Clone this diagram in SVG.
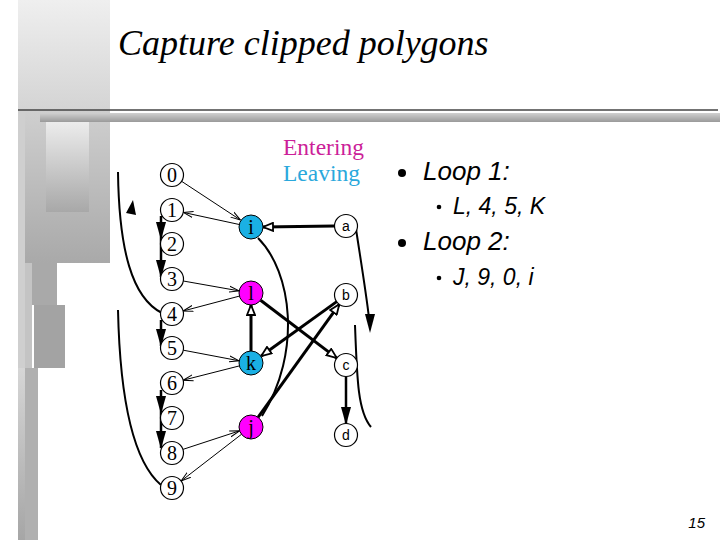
<svg xmlns="http://www.w3.org/2000/svg" width="720" height="540" viewBox="0 0 720 540">
<defs>
<linearGradient id="gTop" x1="0" y1="0" x2="0" y2="1"><stop offset="0" stop-color="#efefef"/><stop offset="1" stop-color="#d4d4d4"/></linearGradient>
<linearGradient id="gMid" x1="0" y1="0" x2="0" y2="1"><stop offset="0" stop-color="#cfcfcf"/><stop offset="1" stop-color="#a9a9a9"/></linearGradient>
<linearGradient id="gIn" x1="0" y1="0" x2="0" y2="1"><stop offset="0" stop-color="#ececec"/><stop offset="1" stop-color="#a8a8a8"/></linearGradient>
<linearGradient id="gBar" x1="0" y1="0" x2="0" y2="1"><stop offset="0" stop-color="#d6d6d6"/><stop offset="1" stop-color="#a6a6a6"/></linearGradient>
<linearGradient id="gH" x1="0" y1="0" x2="0" y2="1"><stop offset="0" stop-color="#d0d0d0"/><stop offset="1" stop-color="#9a9a9a"/></linearGradient>
<marker id="thin" viewBox="0 0 10 8" refX="10" refY="4" markerWidth="10" markerHeight="8" markerUnits="userSpaceOnUse" orient="auto"><path d="M0,1 L10,4 L0,7" fill="none" stroke="#000" stroke-width="1"/></marker>
<marker id="open" viewBox="0 0 12 10" refX="11" refY="5" markerWidth="12" markerHeight="10" markerUnits="userSpaceOnUse" orient="auto"><path d="M1,1 L11,5 L1,9 Z" fill="#fff" stroke="#000" stroke-width="1.8"/></marker>
<marker id="fill" viewBox="0 0 18 10" refX="17" refY="5" markerWidth="18" markerHeight="10" markerUnits="userSpaceOnUse" orient="auto"><path d="M0,0 L18,5 L0,10 Z" fill="#000"/></marker>
<style>
.num{font-family:"Liberation Serif",serif;font-size:20px;fill:#000;text-anchor:middle}
.let{font-family:"Liberation Sans",sans-serif;font-size:14px;fill:#000;text-anchor:middle}
.wc{fill:#fff;stroke:#000;stroke-width:1.2}
.cy{fill:#1ab0e4;stroke:#000;stroke-width:1}
.mg{fill:#ff00ff;stroke:#000;stroke-width:1}
.t{fill:none;stroke:#000;stroke-width:1;marker-end:url(#thin)}
.k{fill:none;stroke:#000;stroke-width:3;marker-end:url(#open)}
.f{fill:none;stroke:#000;stroke-width:2.5;marker-end:url(#fill);marker-mid:url(#fill)}
.c{fill:none;stroke:#000;stroke-width:2}
.b1{font-family:"Liberation Sans",sans-serif;font-style:italic;font-size:26px;fill:#000}
.b2{font-family:"Liberation Sans",sans-serif;font-style:italic;font-size:23px;fill:#000}
</style>
</defs>
<g id="background">
<rect x="18" y="0" width="92" height="110" fill="url(#gTop)"/>
<rect x="25" y="110" width="85" height="153" fill="url(#gMid)"/>
<rect x="46" y="122" width="43" height="90" fill="url(#gIn)"/>
<rect x="18" y="110" width="7" height="430" fill="#cfcfcf"/>
<rect x="25" y="263" width="7" height="105" fill="#c4c4c4"/>
<rect x="32" y="263" width="25" height="42" fill="#a9a9a9"/>
<rect x="34" y="305" width="31" height="63" fill="#a3a3a3"/>
<rect x="18" y="368" width="20" height="172" fill="url(#gBar)"/>
<rect x="25" y="368" width="13" height="172" fill="#b0b0b0"/>
<rect x="40" y="113" width="680" height="9" fill="url(#gH)"/>
<line x1="18" y1="110" x2="718" y2="110" stroke="#444" stroke-width="1.5"/>
</g>
<text id="title" x="118" y="55" font-family="Liberation Serif, serif" font-style="italic" font-size="36" fill="#000">Capture clipped polygons</text>
<g id="legend">
<text x="283" y="155" font-family="Liberation Serif, serif" font-size="23.5" fill="#cc1f99">Entering</text>
<text x="283" y="181" font-family="Liberation Serif, serif" font-size="23.5" fill="#2aa8dc">Leaving</text>
</g>
<g id="connectors">
<path class="t" d="M181.6,181.3 L240.6,220.1"/>
<path class="t" d="M239.3,224.5 L183.2,212.4"/>
<path class="t" d="M183.3,281 L239.2,290.9"/>
<path class="t" d="M239.4,296.1 L183.1,311"/>
<path class="t" d="M183.3,350.2 L239.2,360.8"/>
<path class="t" d="M239.4,365.9 L183.2,380.2"/>
<path class="t" d="M182.9,449.4 L239.6,430.8"/>
<path class="t" d="M241.5,434.3 L181.1,481"/>
<path class="k" d="M334.5,226 L263,227"/>
<path class="k" d="M251,351 L251,305"/>
<path class="k" d="M260.6,300.2 L336.8,358.1"/>
<path class="k" d="M337.1,301.4 L261.2,356"/>
<path class="k" d="M258,417.3 L339.3,304.3"/>
<path class="c" stroke-width="3" d="M258,238 C292,272 302,352 262,416"/>
<path class="f" d="M346,377 L346,424"/>
<polyline class="f" points="161,216 161,239 161,277"/>
<path class="f" d="M161,320 L161,346"/>
<polyline class="f" points="161,390 161,413 161,448"/>
<path class="c" d="M118,172 C119,250 132,298 162,313"/>
<polygon points="133,200 126,213 136,215" fill="#000"/>
<path class="c" d="M118,310 C120,400 134,462 161,485"/>
<path class="c" stroke-width="2.5" d="M356,229 C361,262 366,292 369,318"/>
<polygon points="370,333 365,314 375,314" fill="#000"/>
<path class="c" stroke-width="2.5" d="M355,325 C357,380 358,412 371,427"/>
</g>
<g id="n0"><circle class="wc" cx="172" cy="175" r="11.5"/><text class="num" x="172" y="182">0</text></g>
<g id="n1"><circle class="wc" cx="172" cy="210" r="11.5"/><text class="num" x="172" y="217">1</text></g>
<g id="n2"><circle class="wc" cx="172" cy="244" r="11.5"/><text class="num" x="172" y="251">2</text></g>
<g id="n3"><circle class="wc" cx="172" cy="279" r="11.5"/><text class="num" x="172" y="286">3</text></g>
<g id="n4"><circle class="wc" cx="172" cy="314" r="11.5"/><text class="num" x="172" y="321">4</text></g>
<g id="n5"><circle class="wc" cx="172" cy="348" r="11.5"/><text class="num" x="172" y="355">5</text></g>
<g id="n6"><circle class="wc" cx="172" cy="383" r="11.5"/><text class="num" x="172" y="390">6</text></g>
<g id="n7"><circle class="wc" cx="172" cy="418" r="11.5"/><text class="num" x="172" y="425">7</text></g>
<g id="n8"><circle class="wc" cx="172" cy="453" r="11.5"/><text class="num" x="172" y="460">8</text></g>
<g id="n9"><circle class="wc" cx="172" cy="488" r="11.5"/><text class="num" x="172" y="495">9</text></g>
<g id="ni"><circle class="cy" cx="251" cy="227" r="12"/><text class="num" x="251" y="234">i</text></g>
<g id="nl"><circle class="mg" cx="251" cy="293" r="12"/><text class="num" x="251" y="300">l</text></g>
<g id="nk"><circle class="cy" cx="251" cy="363" r="12"/><text class="num" x="251" y="370">k</text></g>
<g id="nj"><circle class="mg" cx="251" cy="427" r="12"/><text class="num" x="251" y="434">j</text></g>
<g id="na"><circle class="wc" cx="346" cy="226" r="11.5"/><text class="let" x="346" y="231">a</text></g>
<g id="nb"><circle class="wc" cx="346" cy="295" r="11.5"/><text class="let" x="346" y="300">b</text></g>
<g id="nc"><circle class="wc" cx="346" cy="365" r="11.5"/><text class="let" x="346" y="370">c</text></g>
<g id="nd"><circle class="wc" cx="346" cy="435" r="11.5"/><text class="let" x="346" y="440">d</text></g>
<g id="bullets">
<circle cx="402" cy="173" r="4" fill="#000"/>
<text class="b1" x="423" y="180">Loop 1:</text>
<circle cx="439" cy="207" r="2.3" fill="#000"/>
<text class="b2" x="453" y="214">L, 4, 5, K</text>
<circle cx="402" cy="243" r="4" fill="#000"/>
<text class="b1" x="423" y="250">Loop 2:</text>
<circle cx="439" cy="278" r="2.3" fill="#000"/>
<text class="b2" x="453" y="285">J, 9, 0, i</text>
</g>
<text id="page" x="705" y="528" text-anchor="end" font-family="Liberation Sans, sans-serif" font-style="italic" font-size="15" fill="#000">15</text>
</svg>
